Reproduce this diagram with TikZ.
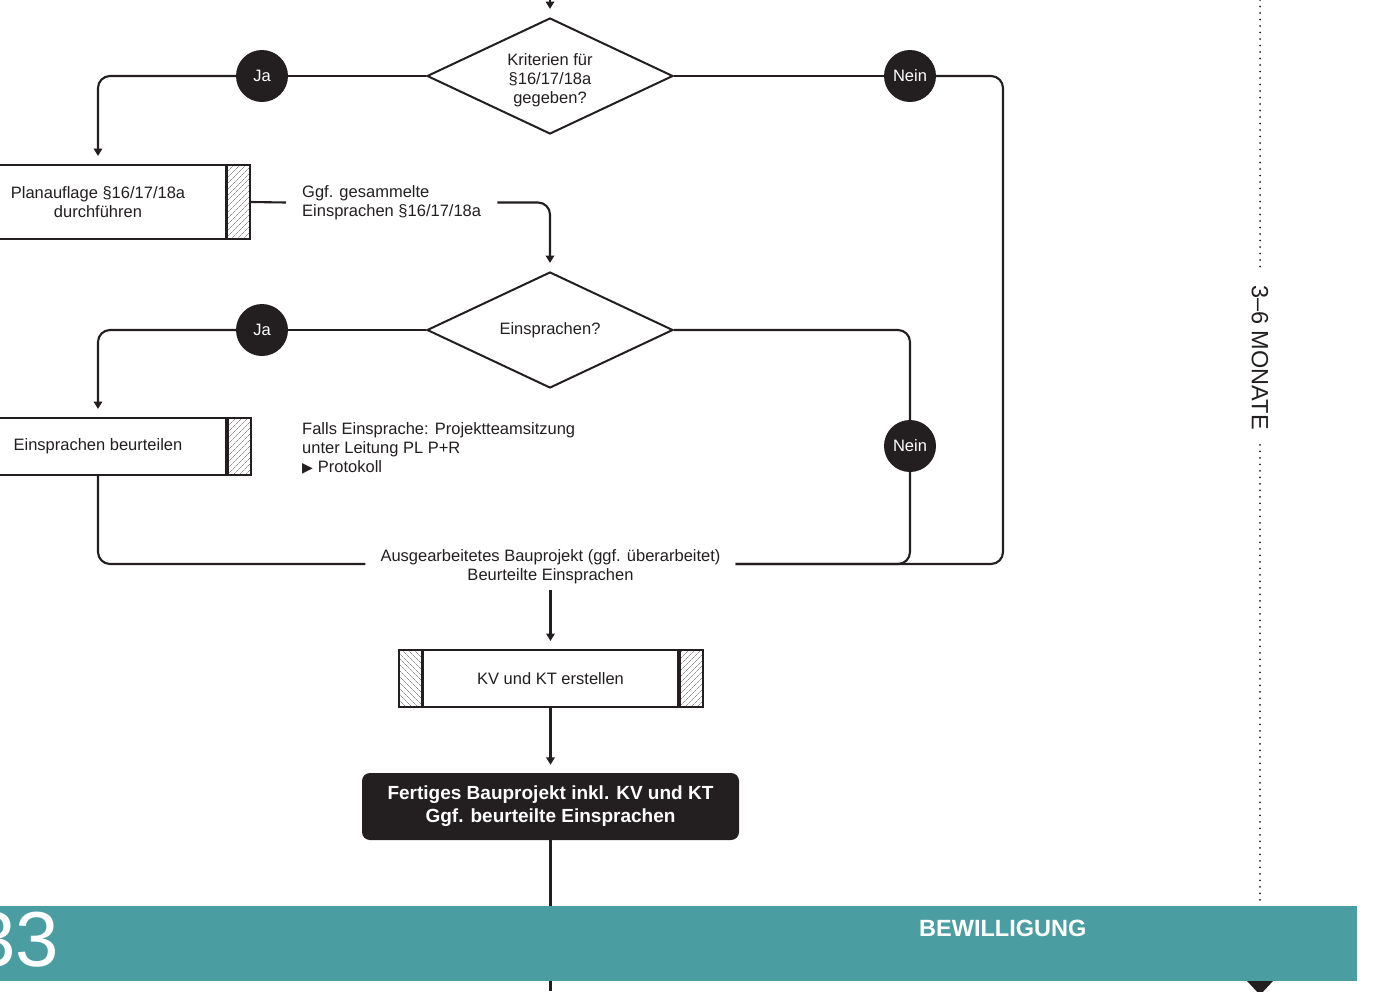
\documentclass[tikz,border=0pt]{standalone}
\usepackage{fontspec}
\setmainfont{Liberation Sans}
\newfontfamily\symfont{DejaVu Sans}
\usetikzlibrary{arrows.meta,shapes.geometric,patterns.meta,calc}
\definecolor{ink}{HTML}{231F20}
\definecolor{barteal}{HTML}{4A9DA0}
\begin{document}
\begin{tikzpicture}[x=1pt,y=-1pt,
  conn/.style={line width=2.1pt, draw=ink, rounded corners=12pt},
  arr/.style={conn, -{Triangle[width=8.5pt,length=7.5pt]}, shorten >=8pt},
  txt/.style={font=\fontsize{16.5}{19}\selectfont, text=ink},
  dec/.style={diamond, draw=ink, line width=2pt, minimum width=246pt, minimum height=116pt, aspect=2.12, inner sep=0pt, txt, align=center},
  yn/.style={circle, fill=ink, minimum size=52pt, inner sep=0pt, text=white, font=\fontsize{16.5}{19}\selectfont},
  box/.style={draw=ink, line width=2pt, fill=white, txt, align=center, inner sep=0pt},
  hatchR/.style={draw=ink, line width=2pt, minimum width=23pt, inner sep=0pt, pattern={Lines[angle=45,distance=4pt,line width=0.45pt]}, pattern color=ink!75},
  hatchL/.style={draw=ink, line width=2pt, minimum width=23pt, inner sep=0pt, pattern={Lines[angle=-45,distance=4pt,line width=0.45pt]}, pattern color=ink!75},
  dots/.style={draw=ink, line width=2pt, dash pattern=on 0pt off 6.5pt, line cap=round}
]
\useasboundingbox (0,0) rectangle (1374,991);

% decisions and yes/no markers
\node[dec] (d1) at (550,76) {\rule{0pt}{20pt}Kriterien für\\§16/17/18a\\gegeben?};
\node[yn] (ja1) at (262,76) {Ja};
\node[yn] (nein1) at (910,76) {Nein};

\node[box, minimum width=256pt, minimum height=74pt] (b1) at (98,202) {Planauflage §16/17/18a\\durchführen};
\node[hatchR, minimum height=74pt, anchor=west] (h1) at (b1.east) {};
\node[txt, align=left, anchor=west, inner xsep=16pt, inner ysep=0pt] (g1) at (286,202.5) {Ggf. gesammelte\\Einsprachen §16/17/18a};

\node[dec] (d2) at (550,330) {Einsprachen?};
\node[yn] (ja2) at (262,330) {Ja};
\node[yn] (nein2) at (910,446) {Nein};

\node[box, minimum width=256pt, minimum height=57pt] (b2) at (98,446.5) {Einsprachen beurteilen};
\node[hatchR, minimum height=57pt, anchor=west] (h2) at (b2.east) {};
\node[txt, align=left, anchor=west, inner sep=0pt] (f1) at (302,448) {Falls Einsprache: Projektteamsitzung\\unter Leitung PL P+R\\{\symfont\fontsize{14}{19}\selectfont ▶}\hspace{5pt}Protokoll};

\node[txt, align=center, inner xsep=15pt, inner ysep=6pt, fill=white] (lbl) at (550.5,564) {\rule{0pt}{18pt}Ausgearbeitetes Bauprojekt (ggf. überarbeitet)\\Beurteilte Einsprachen};

\node[box, minimum width=255pt, minimum height=57pt] (kv) at (550.5,678.5) {KV und KT erstellen};
\node[hatchL, minimum height=57pt, anchor=east] (kvl) at (kv.west) {};
\node[hatchR, minimum height=57pt, anchor=west] (kvr) at (kv.east) {};

\node[fill=ink, rounded corners=8pt, minimum width=377pt, minimum height=67pt, text=white, align=center, font=\bfseries\fontsize{19}{23}\selectfont] (fin) at (550.5,806.5) {Fertiges Bauprojekt inkl. KV und KT\\Ggf. beurteilte Einsprachen};

% connectors
\coordinate (top) at (550,0);
\coordinate (rb) at (1003,564);
\coordinate (bot) at (550.5,991);
\draw[arr] (top) -- (d1.north);
\draw[conn] (d1.west) -- (ja1);
\draw[arr] (ja1) -| (b1.north);
\draw[conn] (d1.east) -- (nein1);
\draw[conn] (nein1) -| (rb) -- (lbl.east);
\draw[conn] (h1.east) -- (g1.west);
\draw[arr] (g1.east) -| (d2.north);
\draw[conn] (d2.west) -- (ja2);
\draw[arr] (ja2) -| (b2.north);
\draw[conn] (d2.east) -| (nein2);
\draw[conn] (nein2) |- (lbl.east);
\draw[conn] (b2.south) |- (lbl.west);
\draw[arr] (lbl.south) -- (kv.north);
\draw[arr] (kv.south) -- (fin.north);
\draw[conn] (fin.south) -- (bot);

% phase bar
\node[fill=barteal, minimum width=1357pt, minimum height=75pt, anchor=north west, inner sep=0pt] (bar) at (0,906) {};
\node[anchor=east, text=white, font=\fontsize{78}{78}\selectfont, inner sep=0pt] (num) at (59,940) {33};
\node[anchor=west, text=white, font=\bfseries\fontsize{23.5}{24}\selectfont, inner sep=0pt] (phase) at (919,928) {BEWILLIGUNG};

% duration
\node[rotate=-90, text=ink, font=\fontsize{23.5}{24}\selectfont, inner xsep=15pt, inner ysep=0pt] (mon) at (1260,357.5) {3–6 MONATE};
\coordinate (dtop) at (1260,0);
\coordinate (dbot) at (1260,906);
\draw[dots] (dtop) -- (mon.west);
\draw[dots] (mon.east) -- (dbot);
\fill[ink] (1247,981) -- (1273,981) -- (1260,995) -- cycle;
\end{tikzpicture}
\end{document}
